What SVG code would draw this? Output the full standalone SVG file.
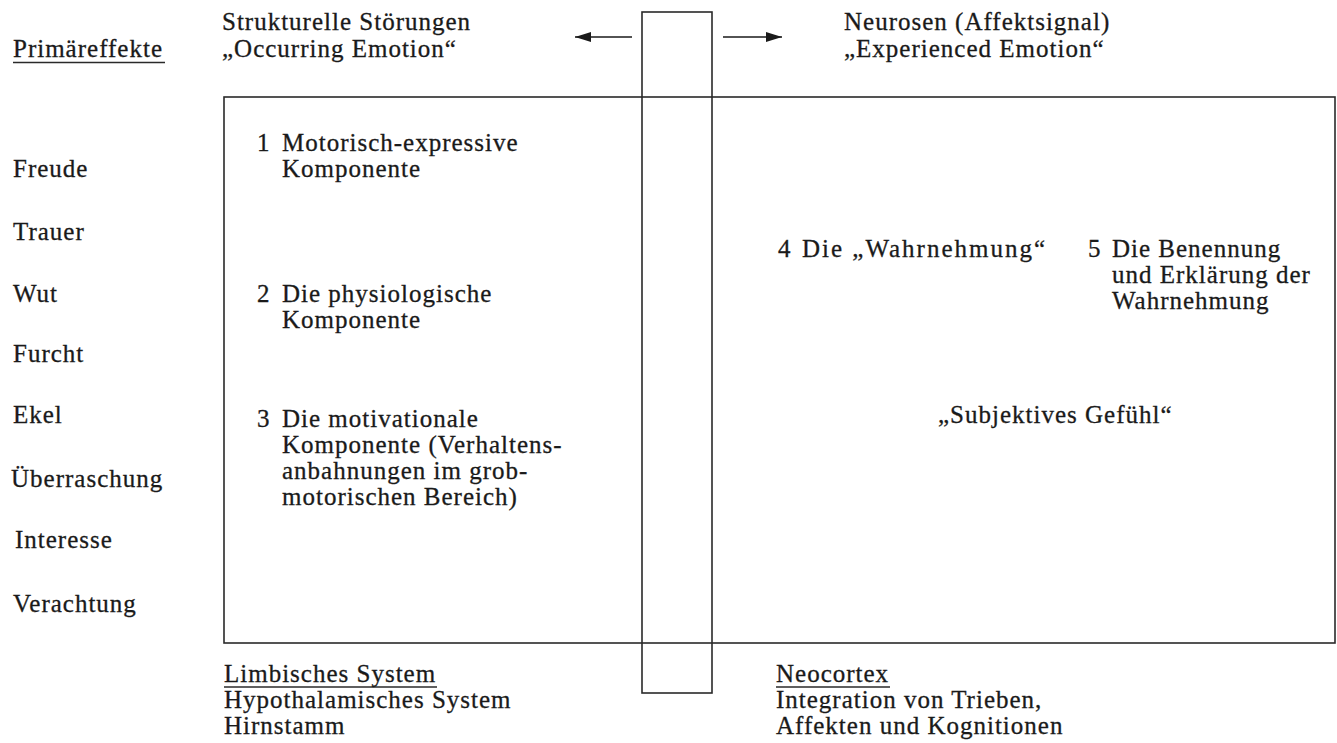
<svg xmlns="http://www.w3.org/2000/svg" width="1337" height="743" viewBox="0 0 1337 743">
  <style>
    text { font-family: "Liberation Serif", "Times New Roman", serif; font-size: 25px; letter-spacing: 1px; fill: #1a1a1a; stroke: #1a1a1a; stroke-width: 0.3px; }
    .frame { fill: none; stroke: #2a2a2a; stroke-width: 1.6; }
    .rule { stroke: #2a2a2a; stroke-width: 1.4; }
    .arrow { stroke: #1a1a1a; stroke-width: 1.6; fill: none; marker-end: url(#head); }
  </style>
  <defs>
    <marker id="head" viewBox="0 0 16 10" refX="16" refY="5" markerWidth="16" markerHeight="10" markerUnits="userSpaceOnUse" orient="auto">
      <path d="M0,0 L16,5 L0,10 Z" fill="#1a1a1a"/>
    </marker>
  </defs>

  <rect width="1337" height="743" fill="#ffffff"/>

  <!-- main frame: subcortical half on the left, cortical half on the right -->
  <g id="main-frame">
    <rect class="frame" x="224" y="97" width="1111" height="546"/>
  </g>

  <!-- vertical channel separating both halves -->
  <g id="channel">
    <rect class="frame" x="642" y="12" width="70" height="681"/>
  </g>

  <g id="connectors">
    <line class="arrow" x1="632" y1="37" x2="575" y2="37"/>
    <line class="arrow" x1="723" y1="37" x2="782" y2="37"/>
  </g>

  <g id="primary-effects">
    <text x="13" y="57">Primäreffekte</text>
    <line class="rule" x1="13" y1="62.5" x2="165" y2="62.5"/>
  </g>

  <g id="emotions">
    <text x="13" y="177">Freude</text>
    <text x="13" y="240">Trauer</text>
    <text x="13" y="302">Wut</text>
    <text x="13" y="362">Furcht</text>
    <text x="13" y="423">Ekel</text>
    <text x="11" y="487">Überraschung</text>
    <text x="15" y="548">Interesse</text>
    <text x="13" y="612">Verachtung</text>
  </g>

  <g id="occurring-emotion">
    <text x="222" y="30">Strukturelle Störungen<tspan x="222" dy="27">„Occurring Emotion“</tspan></text>
  </g>

  <g id="experienced-emotion">
    <text x="844" y="30">Neurosen (Affektsignal)<tspan x="844" dy="27">„Experienced Emotion“</tspan></text>
  </g>

  <g id="component-1">
    <text x="257" y="151">1</text>
    <text x="282" y="151">Motorisch-expressive<tspan x="282" dy="26">Komponente</tspan></text>
  </g>

  <g id="component-2">
    <text x="257" y="302">2</text>
    <text x="282" y="302">Die physiologische<tspan x="282" dy="26">Komponente</tspan></text>
  </g>

  <g id="component-3">
    <text x="257" y="427">3</text>
    <text x="282" y="427">Die motivationale<tspan x="282" dy="26">Komponente (Verhaltens-</tspan><tspan x="282" dy="26">anbahnungen im grob-</tspan><tspan x="282" dy="26">motorischen Bereich)</tspan></text>
  </g>

  <g id="component-4">
    <text x="778" y="257">4</text>
    <text x="802" y="257" textLength="244" lengthAdjust="spacing">Die „Wahrnehmung“</text>
  </g>

  <g id="component-5">
    <text x="1088" y="257">5</text>
    <text x="1112" y="257">Die Benennung<tspan x="1112" dy="26">und Erklärung der</tspan><tspan x="1112" dy="26">Wahrnehmung</tspan></text>
  </g>

  <g id="subjective-feeling">
    <text x="938" y="423">„Subjektives Gefühl“</text>
  </g>

  <g id="limbic-system">
    <line class="rule" x1="224" y1="687" x2="437" y2="687"/>
    <text x="224" y="682">Limbisches System<tspan x="224" dy="26">Hypothalamisches System</tspan><tspan x="224" dy="26">Hirnstamm</tspan></text>
  </g>

  <g id="neocortex">
    <line class="rule" x1="776" y1="687" x2="890" y2="687"/>
    <text x="776" y="682">Neocortex<tspan x="776" dy="26">Integration von Trieben,</tspan><tspan x="776" dy="26">Affekten und Kognitionen</tspan></text>
  </g>
</svg>
